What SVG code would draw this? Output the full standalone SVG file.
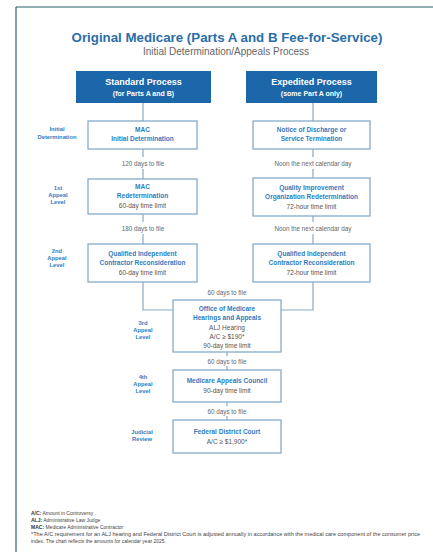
<svg xmlns="http://www.w3.org/2000/svg" width="433" height="552" viewBox="0 0 433 552">
<style>
text{font-family:"Liberation Sans",Arial,sans-serif;text-anchor:middle}
.title{font-size:13.3px;font-weight:bold;fill:#2a6ea8}
.sub{font-size:10px;fill:#666}
.hbox{fill:#1b67aa}
.htext{fill:#fff;font-weight:bold}
.box{fill:#fff;stroke:#86abca;stroke-width:1.3}
.bt{font-size:6.5px;fill:#2f7cc0;font-weight:bold}
.gt{font-size:6.5px;fill:#555}
.lvl{font-size:5.8px;fill:#2f7cc0;font-weight:bold}
.lab{font-size:6.3px;fill:#666}
.conn line,.conn polyline{stroke:#8aa9c4;stroke-width:1.2;fill:none}
.fn{font-size:5px;fill:#444;text-anchor:start}
.fnb{font-weight:bold;fill:#333}
</style>
<rect width="433" height="552" fill="#fff"/>
<g id="frame">
<line x1="16" y1="7" x2="433" y2="7" stroke="#2b5f6e" stroke-width="1.2"/>
<line x1="16" y1="7" x2="16" y2="552" stroke="#2b5f6e" stroke-width="1.2"/>
</g>
<g id="title">
<text class="title" x="227" y="42">Original Medicare (Parts A and B Fee-for-Service)</text>
<text class="sub" x="226" y="55">Initial Determination/Appeals Process</text>
</g>
<g class="conn" id="connectors">
<line x1="143" y1="103" x2="143" y2="121"/>
<line x1="313" y1="103" x2="313" y2="121"/>
<line x1="143" y1="149" x2="143" y2="157"/>
<line x1="143" y1="169" x2="143" y2="179"/>
<line x1="313" y1="149" x2="313" y2="157"/>
<line x1="313" y1="169" x2="313" y2="178"/>
<line x1="143" y1="214" x2="143" y2="222"/>
<line x1="143" y1="234" x2="143" y2="244"/>
<line x1="313" y1="216" x2="313" y2="222"/>
<line x1="313" y1="234" x2="313" y2="244"/>
<polyline points="143,282 143,310 173,310"/>
<polyline points="313,282 313,310 281,310"/>
<line x1="227" y1="352" x2="227" y2="356"/>
<line x1="227" y1="366" x2="227" y2="370"/>
<line x1="227" y1="402" x2="227" y2="406"/>
<line x1="227" y1="416" x2="227" y2="420"/>
</g>
<g id="standard-header">
<rect class="hbox" x="76" y="71" width="135" height="32"/>
<text class="htext" x="143.5" y="85" font-size="9">Standard Process</text>
<text class="htext" x="143.5" y="96" font-size="7">(for Parts A and B)</text>
</g>
<g id="expedited-header">
<rect class="hbox" x="246" y="71" width="131" height="32"/>
<text class="htext" x="311.5" y="85" font-size="9">Expedited Process</text>
<text class="htext" x="311.5" y="96" font-size="7">(some Part A only)</text>
</g>
<g id="lvl-initial">
<text class="lvl" x="57" y="131">Initial</text>
<text class="lvl" x="57" y="139">Determination</text>
</g>
<g id="lvl-1">
<text class="lvl" x="58" y="190">1st</text>
<text class="lvl" x="58" y="197">Appeal</text>
<text class="lvl" x="58" y="204">Level</text>
</g>
<g id="lvl-2">
<text class="lvl" x="57" y="253">2nd</text>
<text class="lvl" x="57" y="260">Appeal</text>
<text class="lvl" x="57" y="267">Level</text>
</g>
<g id="lvl-3">
<text class="lvl" x="143" y="325">3rd</text>
<text class="lvl" x="143" y="332">Appeal</text>
<text class="lvl" x="143" y="339">Level</text>
</g>
<g id="lvl-4">
<text class="lvl" x="143" y="379">4th</text>
<text class="lvl" x="143" y="386">Appeal</text>
<text class="lvl" x="143" y="393">Level</text>
</g>
<g id="lvl-judicial">
<text class="lvl" x="142" y="434">Judicial</text>
<text class="lvl" x="142" y="441">Review</text>
</g>
<g id="mac-initial">
<rect class="box" x="88" y="121" width="109" height="28"/>
<text class="bt" x="142.5" y="132">MAC</text>
<text class="bt" x="142.5" y="141">Initial Determination</text>
</g>
<g id="notice">
<rect class="box" x="253" y="121" width="117" height="28"/>
<text class="bt" x="311.5" y="132">Notice of Discharge or</text>
<text class="bt" x="311.5" y="141">Service Termination</text>
</g>
<g id="lbl1">
<text class="lab" x="143" y="166">120 days to file</text>
<text class="lab" x="313" y="166">Noon the next calendar day</text>
</g>
<g id="mac-redet">
<rect class="box" x="88" y="179" width="109" height="35"/>
<text class="bt" x="142.5" y="189">MAC</text>
<text class="bt" x="142.5" y="198">Redetermination</text>
<text class="gt" x="142.5" y="208">60-day time limit</text>
</g>
<g id="qio">
<rect class="box" x="253" y="178" width="117" height="38"/>
<text class="bt" x="311.5" y="190">Quality Improvement</text>
<text class="bt" x="311.5" y="199">Organization Redetermination</text>
<text class="gt" x="311.5" y="209">72-hour time limit</text>
</g>
<g id="lbl2">
<text class="lab" x="143" y="231">180 days to file</text>
<text class="lab" x="313" y="231">Noon the next calendar day</text>
</g>
<g id="qic-std">
<rect class="box" x="88" y="244" width="109" height="38"/>
<text class="bt" x="142.5" y="256">Qualified Independent</text>
<text class="bt" x="142.5" y="265">Contractor Reconsideration</text>
<text class="gt" x="142.5" y="275">60-day time limit</text>
</g>
<g id="qic-exp">
<rect class="box" x="253" y="244" width="117" height="38"/>
<text class="bt" x="311.5" y="256">Qualified Independent</text>
<text class="bt" x="311.5" y="265">Contractor Reconsideration</text>
<text class="gt" x="311.5" y="275">72-hour time limit</text>
</g>
<g id="lbl3">
<text class="lab" x="227" y="295">60 days to file</text>
</g>
<g id="omha">
<rect class="box" x="173" y="300" width="108" height="52"/>
<text class="bt" x="227" y="311">Office of Medicare</text>
<text class="bt" x="227" y="320">Hearings and Appeals</text>
<text class="gt" x="227" y="330">ALJ Hearing</text>
<text class="gt" x="227" y="339">A/C ≥ $190*</text>
<text class="gt" x="227" y="348">90-day time limit</text>
</g>
<g id="lbl4">
<text class="lab" x="227" y="364">60 days to file</text>
</g>
<g id="council">
<rect class="box" x="173" y="370" width="108" height="32"/>
<text class="bt" x="227" y="383">Medicare Appeals Council</text>
<text class="gt" x="227" y="393">90-day time limit</text>
</g>
<g id="lbl5">
<text class="lab" x="227" y="414">60 days to file</text>
</g>
<g id="court">
<rect class="box" x="173" y="420" width="108" height="33"/>
<text class="bt" x="227" y="434">Federal District Court</text>
<text class="gt" x="227" y="444">A/C ≥ $1,900*</text>
</g>
<g id="footnotes">
<text class="fn" x="31" y="515"><tspan class="fnb">A/C:</tspan> Amount in Controversy</text>
<text class="fn" x="31" y="522"><tspan class="fnb">ALJ:</tspan> Administrative Law Judge</text>
<text class="fn" x="31" y="529"><tspan class="fnb">MAC:</tspan> Medicare Administrative Contractor</text>
<text class="fn" x="31" y="536" textLength="389" lengthAdjust="spacingAndGlyphs">*The A/C requirement for an ALJ hearing and Federal District Court is adjusted annually in accordance with the medical care component of the consumer price</text>
<text class="fn" x="31" y="543">index. The chart reflects the amounts for calendar year 2025.</text>
</g>
</svg>
